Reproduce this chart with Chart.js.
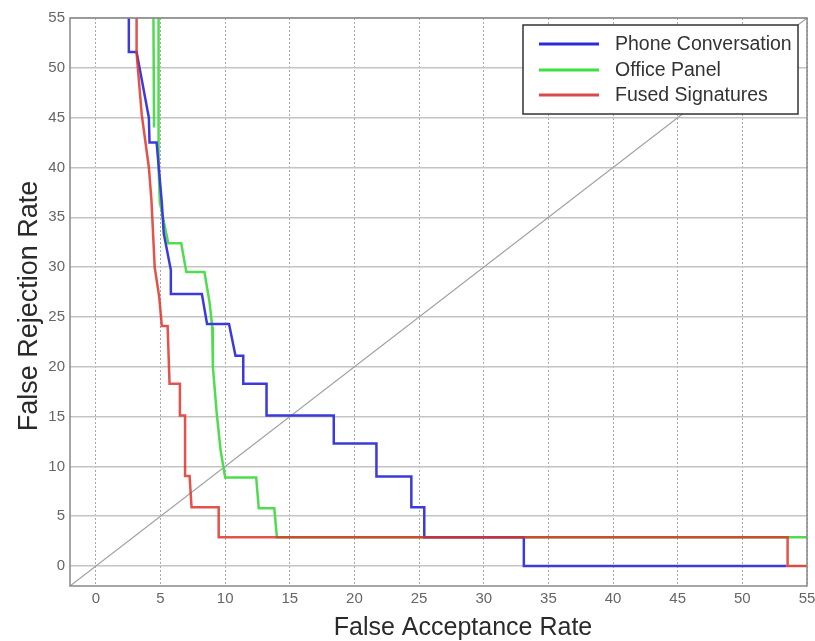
<!DOCTYPE html>
<html>
<head>
<meta charset="utf-8">
<script src="https://cdn.jsdelivr.net/npm/chart.js@4"></script>
<style>
  html, body { margin: 0; padding: 0; background: #fff; }
  #wrap { width: 815px; height: 641px; }
</style>
</head>
<body>
<div id="wrap"><canvas id="detChart" width="815" height="641"></canvas></div>
<script>
// DET curves, values (percent)
const phoneX = [2.55, 2.55, 3.15, 4.1, 4.15, 4.7, 5.1, 5.25, 5.8, 5.8, 8.2, 8.6, 10.3, 10.8, 11.4, 11.4, 13.2, 13.2, 18.4, 18.4, 21.7, 21.7, 24.4, 24.4, 25.4, 25.4, 33.1, 33.1, 53.4];
const phoneY = [56, 51.6, 51.6, 45, 42.5, 42.5, 36.5, 33.4, 29.7, 27.3, 27.3, 24.3, 24.3, 21.1, 21.1, 18.3, 18.3, 15.1, 15.1, 12.3, 12.3, 9.0, 9.0, 5.9, 5.9, 2.9, 2.9, 0, 0];

const officeX = [4.45, 4.5, null, 4.85, 4.85, 4.95, 5.6, 6.6, 7.0, 8.4, 8.8, 9.0, 9.05, 9.35, 9.65, 10.0, 12.4, 12.6, 13.8, 14.0, 56];
const officeY = [56, 44, null, 56, 40, 36.5, 32.4, 32.4, 29.5, 29.5, 26.4, 24.0, 20.0, 15.3, 11.6, 8.9, 8.9, 5.8, 5.8, 2.9, 2.9];

const fusedX = [3.15, 3.15, 3.55, 4.1, 4.3, 4.55, 4.9, 5.1, 5.55, 5.7, 6.5, 6.5, 6.9, 6.9, 7.25, 7.4, 9.5, 9.5, 53.5, 53.5, 56];
const fusedY = [56, 51.5, 45.3, 40, 36.7, 30, 27, 24.1, 24.1, 18.3, 18.3, 15.1, 15.1, 9.05, 9.05, 5.9, 5.9, 2.9, 2.9, 0, 0];

const diagX = [-2, 56];
const diagY = [-2, 56];

const seriesNames = ['Phone Conversation', 'Office Panel', 'Fused Signatures'];
const seriesColors = ['#3b3bdc', '#4fdc4f', 'rgba(222,52,44,0.85)'];
const axisTicks = [0, 5, 10, 15, 20, 25, 30, 35, 40, 45, 50, 55];

const toPoints = (xs, ys) => xs.map((x, i) => ({ x: x, y: ys[i] }));

const boxAndLegend = {
  id: 'boxAndLegend',
  afterDraw(chart) {
    const ctx = chart.ctx;
    const a = chart.chartArea;
    ctx.save();
    // plot frame
    ctx.strokeStyle = '#888';
    ctx.lineWidth = 1.5;
    ctx.strokeRect(a.left, a.top, a.right - a.left, a.bottom - a.top);

    // legend box inside the plot
    const bx = 523, by = 25, bw = 275, bh = 89;
    ctx.fillStyle = '#fff';
    ctx.fillRect(bx, by, bw, bh);
    ctx.strokeStyle = '#333';
    ctx.lineWidth = 1.5;
    ctx.strokeRect(bx, by, bw, bh);
    const rows = [44, 70, 95];
    const legendColors = ['#2b2bd8', '#3ee03e', '#d94a4a'];
    ctx.font = '19.5px "Liberation Sans", Arial, sans-serif';
    ctx.textBaseline = 'middle';
    ctx.textAlign = 'left';
    rows.forEach((ry, i) => {
      ctx.strokeStyle = legendColors[i];
      ctx.lineWidth = 3;
      ctx.beginPath();
      ctx.moveTo(539, ry);
      ctx.lineTo(599, ry);
      ctx.stroke();
      ctx.fillStyle = '#333';
      ctx.fillText(seriesNames[i], 615, ry + 1);
    });

    // axis titles
    ctx.fillStyle = '#2a2a2a';
    ctx.textBaseline = 'alphabetic';
    ctx.textAlign = 'center';
    ctx.font = '25px "Liberation Sans", Arial, sans-serif';
    ctx.fillText('False Acceptance Rate', 463, 635);
    ctx.translate(37, 306);
    ctx.rotate(-Math.PI / 2);
    ctx.font = '27px "Liberation Sans", Arial, sans-serif';
    ctx.fillText('False Rejection Rate', 0, 0);
    ctx.restore();
  }
};

const lineSet = (label, xs, ys, color, width) => ({
  label: label,
  data: toPoints(xs, ys),
  showLine: true,
  borderColor: color,
  backgroundColor: color,
  borderWidth: width,
  pointRadius: 0,
  spanGaps: false,
  tension: 0
});

new Chart(document.getElementById('detChart'), {
  type: 'scatter',
  data: {
    datasets: [
      lineSet(seriesNames[2], fusedX, fusedY, seriesColors[2], 2.5),
      lineSet(seriesNames[0], phoneX, phoneY, seriesColors[0], 2.5),
      lineSet(seriesNames[1], officeX, officeY, seriesColors[1], 2.5),
      lineSet('diagonal', diagX, diagY, '#a0a0a0', 1.2)
    ]
  },
  options: {
    responsive: false,
    animation: false,
    layout: { padding: { left: 0, top: 18, right: 0, bottom: 0 } },
    plugins: {
      legend: { display: false },
      tooltip: { enabled: false }
    },
    scales: {
      x: {
        type: 'linear',
        min: -2,
        max: 55,
        afterFit: (s) => { s.height = 55; s.paddingRight = 8; s.paddingLeft = 0; },
        afterBuildTicks: (s) => { s.ticks = axisTicks.map(v => ({ value: v })); },
        ticks: {
          padding: 4,
          color: '#666',
          font: { family: '"Liberation Sans", Arial, sans-serif', size: 15 },
          maxRotation: 0
        },
        grid: { color: '#a8a8a8', lineWidth: 1, drawTicks: false },
        border: { display: false, dash: [2, 2] }
      },
      y: {
        type: 'linear',
        min: -2,
        max: 55,
        afterFit: (s) => { s.width = 70; },
        afterBuildTicks: (s) => { s.ticks = axisTicks.map(v => ({ value: v })); },
        ticks: {
          padding: 5,
          color: '#666',
          font: { family: '"Liberation Sans", Arial, sans-serif', size: 15 }
        },
        grid: { color: '#c4c4c4', lineWidth: 1.5, drawTicks: false },
        border: { display: false }
      }
    }
  },
  plugins: [boxAndLegend]
});
</script>
</body>
</html>
